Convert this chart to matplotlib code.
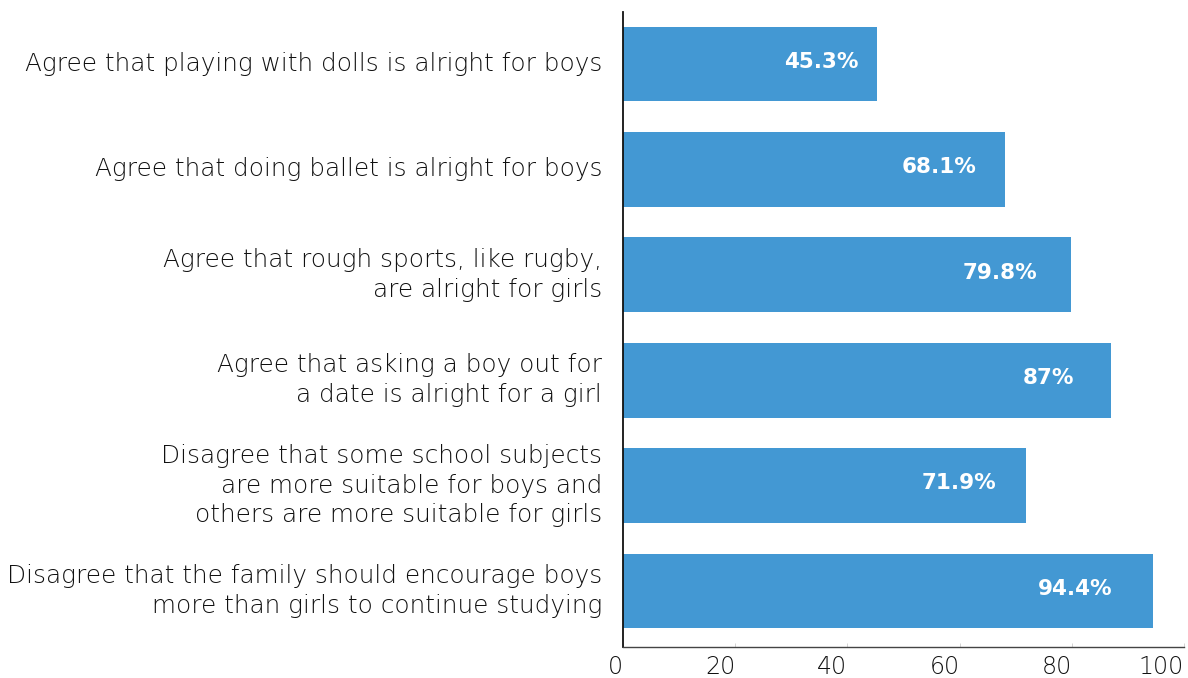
import matplotlib
matplotlib.use("Agg")
import matplotlib.pyplot as plt

categories = [
    "Agree that playing with dolls is alright for boys",
    "Agree that doing ballet is alright for boys",
    "Agree that rough sports, like rugby,\nare alright for girls",
    "Agree that asking a boy out for\na date is alright for a girl",
    "Disagree that some school subjects\nare more suitable for boys and\nothers are more suitable for girls",
    "Disagree that the family should encourage boys\nmore than girls to continue studying",
]
values = [45.3, 68.1, 79.8, 87.0, 71.9, 94.4]
value_labels = ["45.3%", "68.1%", "79.8%", "87%", "71.9%", "94.4%"]
x_ticks = [0, 20, 40, 60, 80, 100]

label_family = "DejaVu Sans"
value_family = "DejaVu Sans"

bar_color = "#4398d3"
text_color = "#111111"

fig = plt.figure(figsize=(11.88, 6.78), dpi=100)
ax = fig.add_axes([0.5244, 0.0457, 0.4722, 0.9366])

y = list(range(len(categories)))
ax.barh(y, values, height=0.71, color=bar_color, zorder=2)

for yi, v, lab in zip(y, values, value_labels):
    ax.text(v * 0.925, yi - 0.02, lab, ha="right", va="center", color="white",
            fontsize=15.5, fontweight="bold", family=value_family)

ax.set_xlim(0, 100)
ax.set_ylim(5.532, -0.493)

ax.set_yticks(y)
ax.set_yticklabels(categories, fontsize=17.8, color=text_color,
                   family=label_family, fontweight="light", linespacing=1.3)
for t in ax.get_yticklabels():
    t.set_verticalalignment("center")
ax.tick_params(axis="y", length=0, pad=15)

ax.set_xticks(x_ticks)
ax.set_xticklabels([str(t) for t in x_ticks], fontsize=17, color=text_color,
                   family=label_family, fontweight="light")
for t in ax.get_xticklabels():
    t.set_horizontalalignment("right")
ax.tick_params(axis="x", direction="in", length=3, width=0.6,
               color="#cccccc", pad=6)

for s in ("top", "right"):
    ax.spines[s].set_visible(False)
ax.spines["left"].set_color("#111111")
ax.spines["left"].set_linewidth(1.3)
ax.spines["bottom"].set_color("#444444")
ax.spines["bottom"].set_linewidth(1.0)

fig.savefig("out.png", dpi=100)
